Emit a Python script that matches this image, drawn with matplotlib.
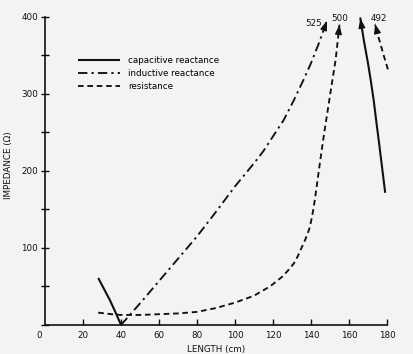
import matplotlib
matplotlib.use('Agg')
import matplotlib.pyplot as plt
import matplotlib.transforms as mtransforms
from matplotlib.ticker import MultipleLocator

# capacitive reactance (two branches)
cap1_x = [28, 31, 34, 37, 40]
cap1_y = [61, 47, 33, 17, 0]
cap2_x = [179, 177.5, 176, 174.5, 173, 171.5, 170, 167.8, 166]
cap2_y = [173, 203, 233, 262, 292, 317, 340, 370, 398]

# inductive reactance
ind_x = [40, 50, 60, 70, 80, 90, 100, 110, 115, 120, 125.6, 131, 136, 140, 144, 148.4]
ind_y = [0, 28, 57, 86, 115, 147, 180, 210, 226, 245, 266, 292, 318, 340, 365, 395]

# resistance (two branches)
res1_x = [28, 35, 40, 50, 60, 70, 80, 90, 100, 110, 117, 120, 125, 128, 131, 133, 135,
          137, 139, 140, 141, 142, 143, 144, 145, 147, 150, 153, 155]
res1_y = [16, 14, 13, 13, 14, 15, 17, 22, 29, 38, 48, 53, 63, 71, 80, 89, 100,
          111, 124, 134, 147, 162, 180, 198, 216, 250, 298, 345, 390]
res2_x = [180.5, 179, 177.5, 175.5, 173.7]
res2_y = [332, 344, 357, 374, 391]

peak_labels = ['525', '500', '492']
peak_pos = [(141.3, 392), (155, 398), (175.5, 398)]

ink = '#111111'
paper = '#f3f3f1'

fig = plt.figure(figsize=(4.13, 3.54), dpi=100, facecolor=paper)
ax = fig.add_axes([0.109, 0.082, 0.828, 0.870])
ax.set_facecolor(paper)

l1, = ax.plot(cap1_x, cap1_y, color=ink, lw=1.5, solid_capstyle='butt',
              label='capacitive reactance')
ax.plot(cap2_x, cap2_y, color=ink, lw=1.5, clip_on=False)
l2, = ax.plot(ind_x, ind_y, color=ink, lw=1.35,
              dashes=(5, 2.2, 1.2, 2.2), label='inductive reactance', clip_on=False)
l3, = ax.plot(res1_x, res1_y, color=ink, lw=1.35, dashes=(3, 2),
              label='resistance', clip_on=False)
ax.plot(res2_x, res2_y, color=ink, lw=1.35, dashes=(3, 2), clip_on=False)

# arrow heads at the top of each branch
for xs, ys in [(cap2_x, cap2_y), (ind_x, ind_y), (res1_x, res1_y), (res2_x, res2_y)]:
    tx, ty = xs[-1], ys[-1]
    bx = tx + 0.1 * (xs[-2] - tx)
    by = ty + 0.1 * (ys[-2] - ty)
    ax.annotate('', xy=(tx, ty), xytext=(bx, by),
                arrowprops=dict(arrowstyle='-|>,head_length=0.55,head_width=0.2',
                                color=ink, lw=1.0, shrinkA=0, shrinkB=0),
                annotation_clip=False)

for lab, (px, py) in zip(peak_labels, peak_pos):
    ax.text(px, py, lab, fontsize=6.3, color=ink, ha='center', va='center')

ax.set_xlim(0, 180)
ax.set_ylim(0, 400)
ax.set_xticks(range(0, 181, 20))
ax.set_yticks([100, 200, 300, 400])
ax.yaxis.set_minor_locator(MultipleLocator(50))
ax.tick_params(axis='x', direction='in', length=4, width=1, pad=4,
               labelsize=6.3, colors=ink)
ax.tick_params(axis='y', which='major', direction='inout', length=6, width=1,
               pad=2, labelsize=6.3, colors=ink)
ax.tick_params(axis='y', which='minor', direction='inout', length=6, width=1)
ax.xaxis.get_major_ticks()[0].tick1line.set_visible(False)

# the corner "0" sits a little left of the origin
fig.canvas.draw()
zero = ax.get_xticklabels()[0]
zero.set_transform(zero.get_transform() +
                   mtransforms.ScaledTranslation(-0.06, 0, fig.dpi_scale_trans))

for s in ['top', 'right']:
    ax.spines[s].set_visible(False)
for s in ['left', 'bottom']:
    ax.spines[s].set_linewidth(1.2)
    ax.spines[s].set_color(ink)

ax.set_xlabel('LENGTH (cm)', fontsize=6.3, color=ink, labelpad=4)
ax.set_ylabel('IMPEDANCE (\u03a9)', fontsize=6.3, color=ink)
ax.yaxis.set_label_coords(-0.094, 0.52)

ax.legend(handles=[l1, l2, l3], loc='upper left', bbox_to_anchor=(0.085, 0.888),
          frameon=False, fontsize=6.3, handlelength=4.8, handletextpad=0.9,
          labelspacing=0.45, borderpad=0)

fig.savefig('out.png', dpi=100, facecolor=paper)
